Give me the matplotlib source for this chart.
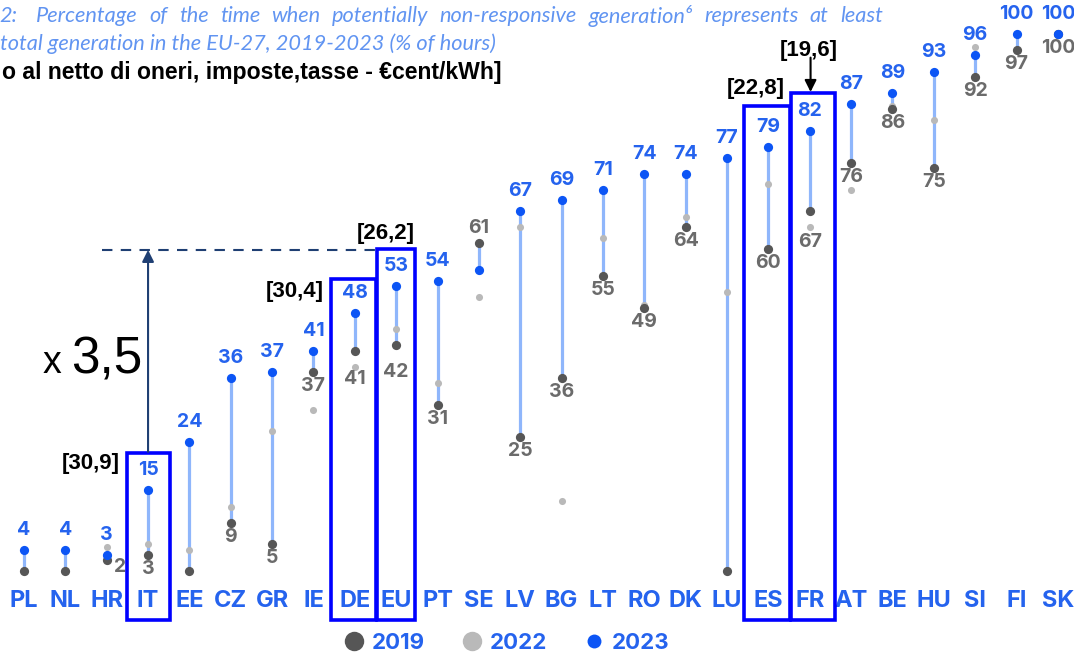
import matplotlib
matplotlib.use("Agg")
import matplotlib.pyplot as plt
from matplotlib.patches import Rectangle
from matplotlib.lines import Line2D

# ---------------- data ----------------
countries = ["PL", "NL", "HR", "IT", "EE", "CZ", "GR", "IE", "DE", "EU", "PT", "SE", "LV",
             "BG", "LT", "RO", "DK", "LU", "ES", "FR", "AT", "BE", "HU", "SI", "FI", "SK"]
v2019 = [0, 0, 2, 3, 0, 9, 5, 37, 41, 42, 31, 61, 25, 36, 55, 49, 64, 0, 60, 67, 76, 86, 75, 92, 97, 100]
v2022 = [0, 0, 4.5, 5, 4, 12, 26, 30, 38, 45, 35, 51, 64, 13, 62, 49.5, 66, 52, 72, 64, 71, 86.5, 84, 97.5, 100, 100]
v2023 = [4, 4, 3, 15, 24, 36, 37, 41, 48, 53, 54, 56, 67, 69, 71, 74, 74, 77, 79, 82, 87, 89, 93, 96, 100, 100]
years = ["2019", "2022", "2023"]

# overlay annotations (Italian slide markup)
box_countries = ["IT", "DE", "EU", "ES", "FR"]
box_labels = ["[30,9]", "[30,4]", "[26,2]", "[22,8]", "[19,6]"]
multiplier_text = "3,5"
title_line1 = "Percentage of the time when potentially non-responsive generation\u2076 represents at least"
title_line2 = "total generation in the EU-27, 2019-2023 (% of hours)"
subtitle = "o al netto di oneri, imposte,tasse - \u20accent/kWh]"

# ---------------- style ----------------
W, H = 1074, 652
BLUE = "#0c55f5"
BLUE_TXT = "#2563ee"
LINE = "#8fb6fb"
DARK = "#565656"
LIGHT = "#b9b9b9"
GREY_TXT = "#6b6b6b"
NAVY = "#1f3f73"
BOX = "#0000ff"
TITLE_C = "#5089f0"
FONT = ["Inter", "DejaVu Sans"]
ARIAL = ["Liberation Sans", "DejaVu Sans"]
TFONT = ["Lato", "DejaVu Sans"]

fig = plt.figure(figsize=(W / 100, H / 100), dpi=100)
ax = fig.add_axes([0, 0, 1, 1])
ax.set_xlim(-0.58, 25.39)
ax.set_ylim(-15.08, 106.33)
for s in ax.spines.values():
    s.set_visible(False)
ax.spines["bottom"].set_position(("data", 0))
ax.set_yticks([])
x = list(range(len(countries)))
ax.set_xticks(x, countries)
ax.tick_params(axis="x", length=0, pad=13.5, labelsize=17, labelcolor=BLUE_TXT)
for lbl in ax.get_xticklabels():
    lbl.set_fontweight("bold")
    lbl.set_family(FONT)

ax.vlines(x, v2019, v2023, color=LINE, lw=2.3, zorder=1)
ax.scatter(x, v2022, s=26, color=LIGHT, lw=0, zorder=2)
ax.scatter(x, v2019, s=44, color=DARK, lw=0, zorder=3)
ax.scatter(x, v2023, s=44, color=BLUE, lw=0, zorder=4)

grey_offsets = {"HR": (13, -7), "DE": (0, -28), "EU": (0, -27), "FR": (0, -31), "SE": (0, 15)}
for i, c in enumerate(countries):
    if v2023[i] >= v2019[i]:
        ax.annotate(f"{v2023[i]:g}", (i, v2023[i]), xytext=(0, 20), textcoords="offset pixels",
                    ha="center", va="center", fontsize=14, fontweight="bold", color=BLUE_TXT,
                    family=FONT, zorder=5)
    if v2019[i] > 0:
        off = grey_offsets.get(c, (0, -14))
        ax.annotate(f"{v2019[i]:g}", (i, v2019[i]), xytext=off, textcoords="offset pixels",
                    ha="center", va="center", fontsize=14, fontweight="bold", color=GREY_TXT,
                    family=FONT, zorder=5)

# ---------------- overlay boxes ----------------
box_left = [-0.51, -0.58, -0.47, -0.59, -0.46]
box_right = [0.53, 0.51, 0.45, 0.52, 0.61]
box_top = [22.0, 54.4, 60.0, 86.6, 89.0]
box_bottom = -9.1
for c, l, r, t in zip(box_countries, box_left, box_right, box_top):
    i = countries.index(c)
    ax.add_patch(Rectangle((i + l, box_bottom), r - l, t - box_bottom, fill=False,
                           edgecolor=BOX, lw=2.6, zorder=6, clip_on=False))

# box labels
lab_pos = [(1.62, 20.1), (6.55, 52.1), (8.75, 62.9), (17.70, 89.9), (18.98, 97.0)]
for t, (lx, ly) in zip(box_labels, lab_pos):
    ax.text(lx, ly, t, ha="center", va="center", fontsize=16, fontweight="bold",
            family=ARIAL, color="black", zorder=7)

# arrow IT -> EU level, dashed reference line
it = countries.index("IT")
eu = countries.index("EU")
ax.annotate("", xy=(it, 59.8), xytext=(it, 22.2),
            arrowprops=dict(arrowstyle="-|>,head_length=0.7,head_width=0.35", color=NAVY, lw=1.5,
                            shrinkA=0, shrinkB=0), zorder=7)
ax.plot([1.89, eu - 0.47], [59.8, 59.8], color=NAVY, lw=1.5, ls=(0, (5, 4)), zorder=7)
ax.text(0.68, 36.8, "x", ha="center", va="baseline", fontsize=27, family=ARIAL, color="black")
ax.text(1.99, 36.8, multiplier_text, ha="center", va="baseline", fontsize=37, family=ARIAL,
        color="black")

# arrow to FR
fr = countries.index("FR")
ax.annotate("", xy=(fr + 0.02, 89.2), xytext=(fr + 0.02, 95.6),
            arrowprops=dict(arrowstyle="-|>,head_length=0.7,head_width=0.35", color="black", lw=1.5,
                            shrinkA=0, shrinkB=0), zorder=7)

# ---------------- header texts ----------------
tkw = dict(va="center", fontsize=15.7, style="italic", color=TITLE_C, family=TFONT, alpha=0.9)
fig.text(-1 / W, 1 - 16 / H, "2:", ha="left", **tkw)
# justified first line between x=36px and x=883px
renderer = fig.canvas.get_renderer()
words = title_line1.split(" ")
wtexts = [fig.text(0, 1 - 16 / H, w, ha="left", **tkw) for w in words]
widths = [t.get_window_extent(renderer).width for t in wtexts]
gap = (883 - 36 - sum(widths)) / (len(words) - 1)
cx = 36.0
for t, wd in zip(wtexts, widths):
    t.set_x(cx / W)
    cx += wd + gap
fig.text(0 / W, 1 - 44 / H, title_line2, ha="left", **tkw)
fig.text(2 / W, 1 - 73 / H, subtitle, ha="left", va="center", fontsize=16.6, fontweight="bold",
         family=ARIAL, color="black")

# ---------------- legend ----------------
handles = [Line2D([], [], ls="", marker="o", markersize=14, color=DARK, markeredgewidth=0),
           Line2D([], [], ls="", marker="o", markersize=14, color=LIGHT, markeredgewidth=0),
           Line2D([], [], ls="", marker="o", markersize=10, color=BLUE, markeredgewidth=0)]
fig.legend(handles, years, loc="center", bbox_to_anchor=(505 / W, 1 - 643 / H), ncol=3,
           frameon=False, handletextpad=0.2, columnspacing=1.5, handlelength=1.2,
           prop=dict(family=FONT, weight="bold", size=16), labelcolor=BLUE_TXT)

fig.savefig("out.png", dpi=100)
